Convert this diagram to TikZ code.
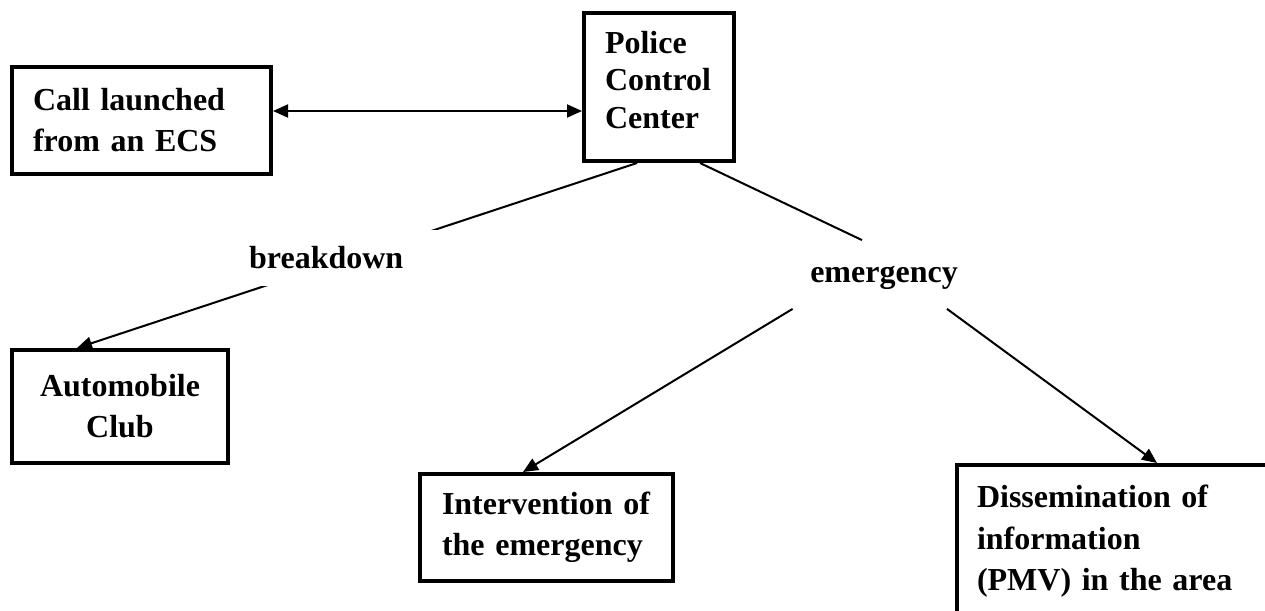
\documentclass[tikz,border=0pt]{standalone}
\usepackage{fontspec}
\setmainfont{Liberation Serif}
\usetikzlibrary{arrows.meta,positioning}

\begin{document}
\begin{tikzpicture}[x=0.5pt, y=-0.5pt,
      box/.style={
        draw, line width=2pt, inner ysep=0pt,
        font=\fontsize{16}{20.5}\selectfont\bfseries
      },
      lbl/.style={font=\fontsize{16}{20}\selectfont\bfseries},
      arrow/.style={->, line width=1pt, >={Triangle[length=7.5pt,width=6.5pt]}}
    ]
      \useasboundingbox (0,0) rectangle (1265,611);

      \node[box, minimum width=129.5pt, minimum height=53.5pt, inner xsep=10.5pt, text width=108.5pt, align=left] (ecs) at (141.5,120.5) {Call launched\\from an ECS};
      \node[box, minimum width=75pt, minimum height=74pt, inner xsep=10.5pt, text width=54pt, align=left, font=\fontsize{16}{18.75}\selectfont\bfseries, text depth=45pt] (pcc) at (659,87) {Police\\Control\\Center};
      \node[box, minimum width=108pt, minimum height=56.5pt, align=center] (acl) at (120,406.5) {Automobile\\Club};
      \node[box, minimum width=126.5pt, minimum height=53.5pt, inner xsep=11pt, text width=104.5pt, align=left] (itv) at (546.5,527.5) {Intervention of\\the emergency};
      \node[box, anchor=north west, minimum width=172pt, inner xsep=10pt, inner ysep=10pt, text width=152pt, align=left, text depth=80pt, font=\fontsize{16}{20.75}\selectfont\bfseries] (dis) at (955,463) {Dissemination of\\information\\(PMV) in the area};
      \node[lbl, minimum width=91pt, minimum height=34pt, text height=11pt, text depth=3.5pt] (emg) at (884,274.5) {emergency};

      \coordinate (ecsport) at ([yshift=4.75pt]ecs.east);
      \draw[arrow, <->] (ecsport) -- (ecsport -| pcc.west);
      \draw[arrow] ([xshift=-11pt]pcc.south) -- node[lbl, fill=white, pos=0.513, xshift=-11.75pt, minimum width=115pt, minimum height=28pt] (brk) {breakdown} ([xshift=-21.5pt]acl.north);
      \draw[line width=1pt] ([xshift=20.5pt]pcc.south) -- ([xshift=-11pt]emg.north);
      \draw[arrow] (emg.south west) -- ([xshift=-11.75pt]itv.north);
      \draw[arrow] ([xshift=31.5pt]emg.south) -- ([xshift=101pt]dis.north west);
    \end{tikzpicture}
\end{document}
